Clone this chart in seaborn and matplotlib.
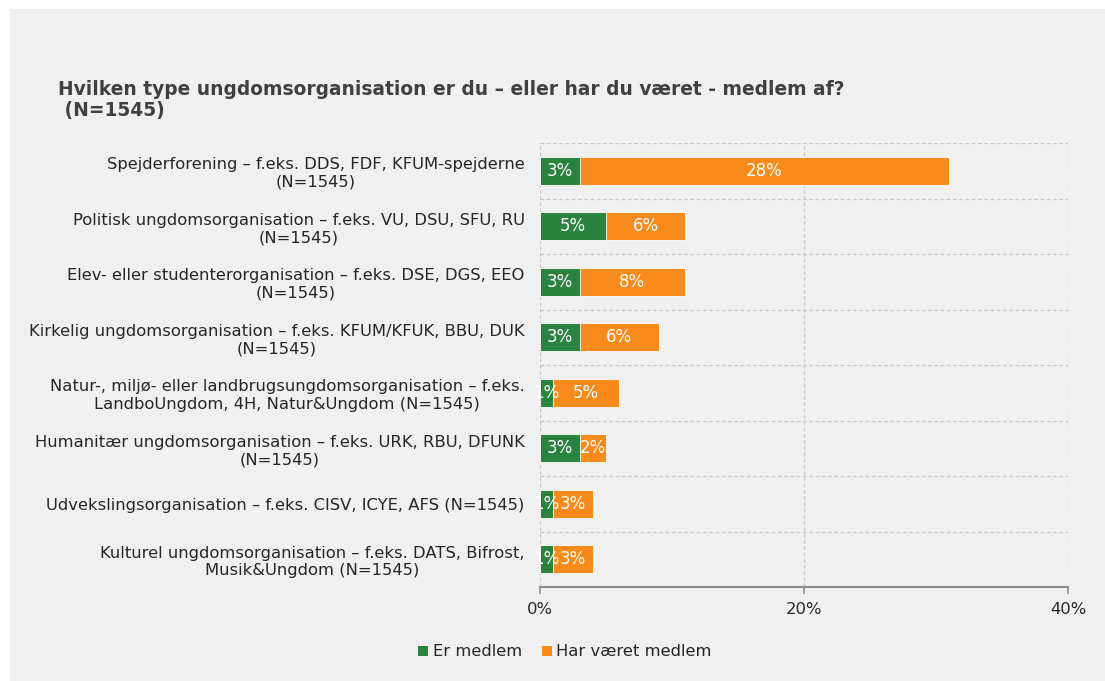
import matplotlib
matplotlib.use("Agg")
import matplotlib.pyplot as plt
import seaborn as sns
import pandas as pd
from matplotlib.patches import Rectangle, Patch

categories = [
    "Spejderforening – f.eks. DDS, FDF, KFUM-spejderne\n(N=1545)",
    "Politisk ungdomsorganisation – f.eks. VU, DSU, SFU, RU\n(N=1545)",
    "Elev- eller studenterorganisation – f.eks. DSE, DGS, EEO\n(N=1545)",
    "Kirkelig ungdomsorganisation – f.eks. KFUM/KFUK, BBU, DUK\n(N=1545)",
    "Natur-, miljø- eller landbrugsungdomsorganisation – f.eks.\nLandboUngdom, 4H, Natur&Ungdom (N=1545)",
    "Humanitær ungdomsorganisation – f.eks. URK, RBU, DFUNK\n(N=1545)",
    "Udvekslingsorganisation – f.eks. CISV, ICYE, AFS (N=1545)",
    "Kulturel ungdomsorganisation – f.eks. DATS, Bifrost,\nMusik&Ungdom (N=1545)",
]
er_medlem = [3, 5, 3, 3, 1, 3, 1, 1]
har_vaeret = [28, 6, 8, 6, 5, 2, 3, 3]
series_names = ["Er medlem", "Har været medlem"]
xticks = [0, 20, 40]
title = "Hvilken type ungdomsorganisation er du – eller har du været - medlem af?\n (N=1545)"

GREEN = "#2a8440"
ORANGE = "#f68b1b"
BG = "#f0f0f0"
TXT = "#262626"

sns.set_theme(style="white")
plt.rcParams["font.family"] = ["DejaVu Sans"]

df = pd.DataFrame({"cat": categories, "er": er_medlem, "har": har_vaeret})
df["total"] = df["er"] + df["har"]

fig = plt.figure(figsize=(11.05, 6.81), dpi=100)
fig.patch.set_facecolor("white")
fig.patches.append(Rectangle((10 / 1105, 0), 1 - 10 / 1105, 1 - 9 / 681,
                             transform=fig.transFigure, facecolor=BG,
                             edgecolor="none", zorder=-10))

ax = fig.add_axes([540 / 1105, 1 - 587 / 681, (1068 - 540) / 1105, (587 - 143) / 681])
ax.set_facecolor(BG)

sns.barplot(data=df, y="cat", x="total", color=ORANGE, orient="h", width=0.5,
            ax=ax, saturation=1, edgecolor="white", linewidth=0.6, zorder=3)
sns.barplot(data=df, y="cat", x="er", color=GREEN, orient="h", width=0.5,
            ax=ax, saturation=1, edgecolor="white", linewidth=0.6, zorder=4)

for i, (g, o) in enumerate(zip(er_medlem, har_vaeret)):
    ax.text(g / 2, i, f"{g}%", ha="center", va="center", color="white",
            fontsize=12, zorder=6)
    ax.text(g + o / 2, i, f"{o}%", ha="center", va="center", color="white",
            fontsize=12, zorder=6)

ax.set_xlim(0, 40)
ax.set_ylim(7.5, -0.5)
ax.set_xticks(xticks)
ax.set_xticklabels([f"{t}%" for t in xticks], fontsize=11.8, color=TXT)
ax.set_xlabel("")
ax.set_ylabel("")
ax.tick_params(axis="x", bottom=True, length=5, color="#8c8c8c", width=1.2, pad=6)
ax.tick_params(axis="y", left=False, pad=5)
for lab in ax.get_yticklabels():
    lab.set_fontsize(11.8)
    lab.set_color(TXT)
    lab.set_ha("right")
    lab.set_multialignment("center")

# grid
for x in xticks:
    ax.axvline(x, color="#c8c8c8", linestyle=(0, (3, 2)), linewidth=0.9, zorder=1)
for y in range(-1, 8):
    ax.axhline(y + 0.5, color="#c8c8c8", linestyle=(0, (3, 2)), linewidth=0.9, zorder=1)

for s in ["top", "right", "left"]:
    ax.spines[s].set_visible(False)
ax.spines["bottom"].set_color("#8c8c8c")
ax.spines["bottom"].set_linewidth(1.5)
ax.spines["bottom"].set_zorder(5)

fig.text(58 / 1105, 1 - 80 / 681, title, ha="left", va="top", fontsize=13.4,
         fontweight="bold", color="#404040", linespacing=1.15)

handles = [Patch(facecolor=GREEN, edgecolor="none"), Patch(facecolor=ORANGE, edgecolor="none")]
fig.legend(handles, series_names, loc="center", bbox_to_anchor=(565 / 1105, 1 - 652 / 681),
           ncol=2, frameon=False, fontsize=11.8, handlelength=0.6, handleheight=0.6,
           handletextpad=0.3, columnspacing=1.2, labelcolor=TXT)

fig.savefig("out.png", dpi=100, facecolor=fig.get_facecolor())
